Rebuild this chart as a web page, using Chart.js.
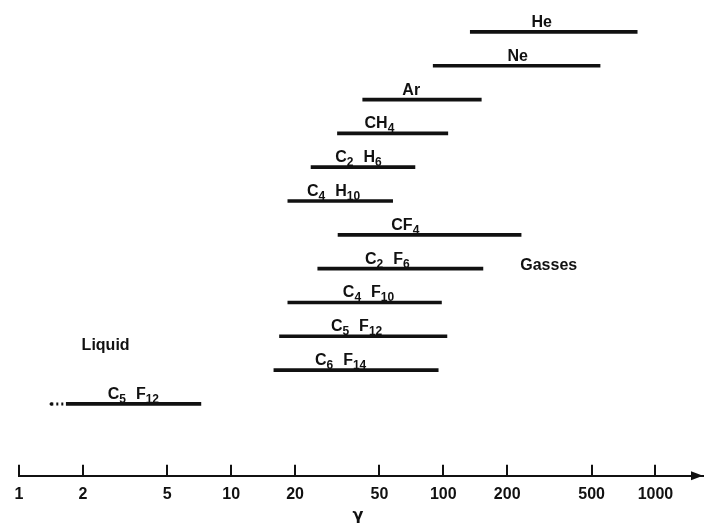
<!DOCTYPE html>
<html>
<head>
<meta charset="utf-8">
<script src="https://cdn.jsdelivr.net/npm/chart.js@4.4.1/dist/chart.umd.min.js"></script>
<style>
  html, body { margin: 0; padding: 0; background: #fff; }
  #wrap { width: 707px; height: 526px; }
</style>
</head>
<body>
<div id="wrap"><canvas id="chart"></canvas></div>
<script>
// Gamme de gamma pour chaque gaz
const gases = ['He', 'Ne', 'Ar', 'CH4', 'C2 H6', 'C4 H10', 'CF4', 'C2 F6', 'C4 F10', 'C5 F12', 'C6 F14', 'C5 F12'];
const rangeLow = [134, 89.6, 41.7, 31.7, 23.8, 18.5, 31.9, 25.6, 18.5, 16.9, 15.9, 1.67];
const rangeHigh = [820, 548, 151, 105, 73.5, 57.7, 232.6, 153.7, 98, 104, 94.6, 7.2];
// où se trouve le nom au-dessus de chaque trait (valeur de gamma)
const labelAt = [291, 224, 70.6, 50, 39.8, 30.4, 66.2, 54.5, 44.4, 39, 32.8, 3.46];
// début pointillé du trait liquide
const liquidTail = [1.42, 1.67];
const tickValues = [1, 2, 5, 10, 20, 50, 100, 200, 500, 1000];
const groupLabels = [
  { text: 'Liquid', x: 2.56, row: 9.28 },
  { text: 'Gasses', x: 314, row: 6.9 }
];
const axisTitle = 'γ';

const ink = '#111';
const face = '"Liberation Sans", Arial, sans-serif';

// dessine une formule chimique avec indices (C5 F12 -> C₅ F₁₂)
function drawFormula(ctx, text, cx, barY) {
  const parts = [];
  text.split(' ').forEach((g, gi) => {
    if (gi > 0) parts.push({ gap: 10 });
    const re = /([A-Za-z]+)(\d*)/g;
    let m;
    while ((m = re.exec(g)) && m[0]) {
      parts.push({ t: m[1], sub: false });
      if (m[2]) parts.push({ t: m[2], sub: true });
    }
  });
  const mainFont = 'bold 16px ' + face;
  const subFont = 'bold 12px ' + face;
  let w = 0;
  parts.forEach(p => {
    if (p.gap) { p.w = p.gap; }
    else { ctx.font = p.sub ? subFont : mainFont; p.w = ctx.measureText(p.t).width; }
    w += p.w;
  });
  let x = cx - w / 2;
  ctx.textAlign = 'left';
  ctx.textBaseline = 'alphabetic';
  parts.forEach(p => {
    if (!p.gap) {
      ctx.font = p.sub ? subFont : mainFont;
      ctx.fillText(p.t, x, p.sub ? barY - 1 : barY - 5);
    }
    x += p.w;
  });
}

const labelsPlugin = {
  id: 'labels',
  afterDraw(chart) {
    const ctx = chart.ctx;
    const xs = chart.scales.x;
    const ys = chart.scales.y;
    const area = chart.chartArea;
    ctx.save();
    ctx.fillStyle = ink;
    ctx.strokeStyle = ink;

    // noms des gaz
    gases.forEach((g, i) => {
      drawFormula(ctx, g, xs.getPixelForValue(labelAt[i]), ys.getPixelForValue(i));
    });

    // Liquid / Gasses
    ctx.font = 'bold 16px ' + face;
    ctx.textAlign = 'center';
    ctx.textBaseline = 'middle';
    groupLabels.forEach(l => {
      ctx.fillText(l.text, xs.getPixelForValue(l.x), ys.getPixelForValue(l.row));
    });

    // titre de l'axe
    ctx.font = 'bold 16px "DejaVu Sans", sans-serif';
    ctx.fillText(axisTitle, (area.left + area.right) / 2 - 3, area.bottom + 40);

    // graduations vers le haut
    const y0 = area.bottom;
    ctx.lineWidth = 2;
    ctx.beginPath();
    tickValues.forEach(v => {
      const px = Math.round(xs.getPixelForValue(v));
      ctx.moveTo(px, y0);
      ctx.lineTo(px, y0 - 11);
    });
    ctx.stroke();

    // flèche
    const xr = area.right;
    ctx.beginPath();
    ctx.moveTo(xr, y0);
    ctx.lineTo(xr - 12, y0 - 4.5);
    ctx.lineTo(xr - 12, y0 + 4.5);
    ctx.closePath();
    ctx.fill();
    ctx.restore();
  }
};

const rows = gases.map((g, i) => i);

new Chart(document.getElementById('chart'), {
  type: 'bar',
  data: {
    datasets: [
      {
        label: 'gamma',
        indexAxis: 'y',
        data: rows.map(i => ({ y: i, x: [rangeLow[i], rangeHigh[i]] })),
        backgroundColor: ink,
        borderWidth: 0,
        barThickness: 3,
        borderSkipped: false
      },
      {
        type: 'line',
        label: 'liquid tail',
        data: liquidTail.map(v => ({ x: v, y: 11 })),
        borderColor: ink,
        borderWidth: 3,
        borderDash: [2, 3],
        pointRadius: [1.8, 0],
        pointBackgroundColor: ink,
        pointBorderWidth: 0
      }
    ]
  },
  options: {
    responsive: true,
    maintainAspectRatio: false,
    animation: false,
    layout: { padding: { left: 19, right: 1, top: 15, bottom: 13 } },
    plugins: { legend: { display: false }, tooltip: { enabled: false } },
    scales: {
      x: {
        type: 'logarithmic',
        min: 1,
        max: 1675,
        afterBuildTicks: scale => { scale.ticks = tickValues.map(v => ({ value: v })); },
        grid: { display: false, drawTicks: false },
        border: { display: true, color: ink, width: 2 },
        ticks: {
          color: ink,
          padding: 9,
          maxRotation: 0,
          autoSkip: false,
          font: { family: face, size: 16, weight: 'bold' },
          callback: v => String(v)
        }
      },
      y: {
        type: 'linear',
        display: false,
        reverse: true,
        offset: false,
        min: -0.5,
        max: 13.125
      }
    }
  },
  plugins: [labelsPlugin]
});
</script>
</body>
</html>
